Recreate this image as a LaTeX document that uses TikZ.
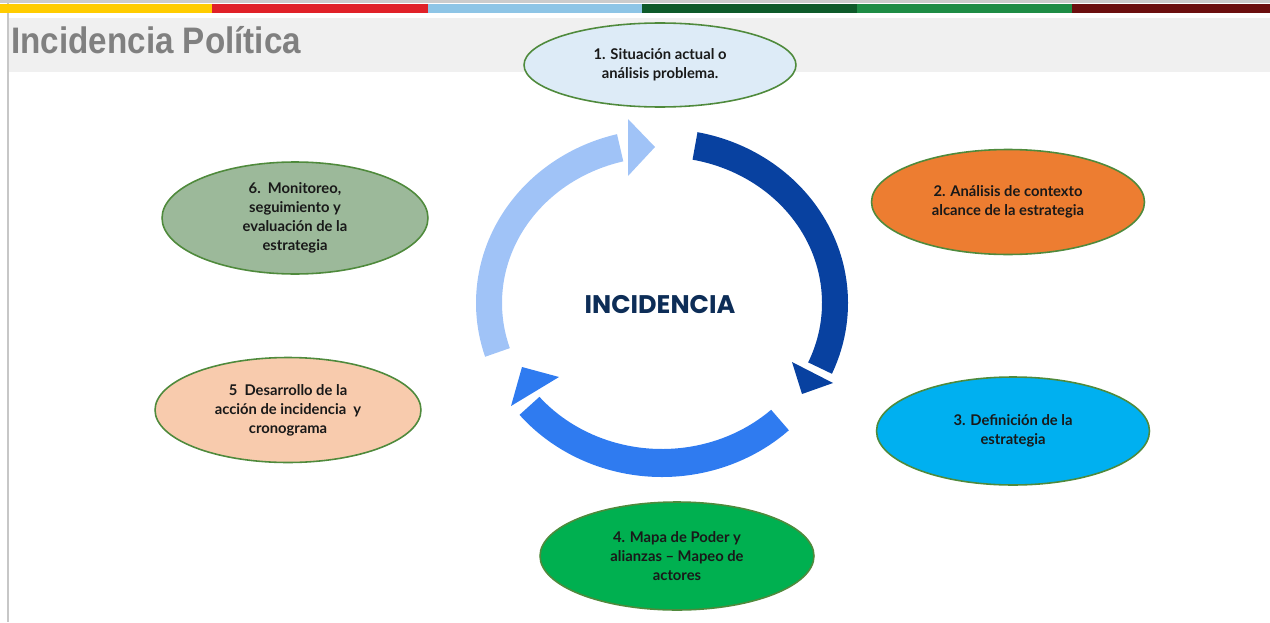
\documentclass[tikz,border=0pt]{standalone}
\usepackage{fontspec}
\usetikzlibrary{shapes.geometric}
\newfontfamily\titlefont{Liberation Sans}
\newfontfamily\stepfont{Lato}
\newfontfamily\incfont{Poppins}

\begin{document}
\begin{tikzpicture}
    [x=0.02cm,y=-0.02cm,line cap=butt,
    % Styles
    stepnode/.style={ellipse,draw=stepborder,line width=0.9pt,inner sep=0pt,
        align=center,text=black!90,font=\stepfont\bfseries\fontsize{8.4}{10.8}\selectfont}]

    % Colors
    \definecolor{stepborder}{HTML}{4F8A3C}
    \definecolor{darkband}{HTML}{0841A0}
    \definecolor{midband}{HTML}{2F7BF0}
    \definecolor{lightband}{HTML}{A0C3F7}
    \definecolor{inctext}{HTML}{0D2D57}
    \definecolor{fillA}{HTML}{DDEBF7}
    \definecolor{fillB}{HTML}{ED7D31}
    \definecolor{fillC}{HTML}{00B0F0}
    \definecolor{fillD}{HTML}{00B050}
    \definecolor{fillE}{HTML}{F8CBAD}
    \definecolor{fillF}{HTML}{9CB99A}

    \useasboundingbox (0,0) rectangle (1270,622);

    % Frame and title bar
    \draw[black!20,line width=0.06cm] (0,1.5) -- (1270,1.5);
    \draw[black!22,line width=0.04cm] (8,3) -- (8,622);
    \foreach \col/\xa/\xb in {FFCC00/0/212, E02128/212/428, 8EC5E6/428/642,
                              0E5A2A/642/857, 1E8C45/857/1072, 6B0F0F/1072/1270}
    {
        \definecolor{stripecolor}{HTML}{\col}
        \fill[stripecolor] (\xa,4) rectangle (\xb,12.5);
    }
    \fill[black!6] (9,18) rectangle (1270,72);
    \node[anchor=base west,inner sep=0pt,text=black!50,
          font=\titlefont\bfseries\fontsize{21}{24}\selectfont] (title) at (11,53)
        {\scalebox{0.9}[1]{Incidencia Política}};

    % Cycle
    \begin{scope}[shift={(662,303)},y=0.02cm]
        \foreach \col/\a/\b in {darkband/79/-24, midband/-47/-140, lightband/-162/-256}
            \fill[\col] (\a:186 and 174)
                arc[start angle=\a, end angle=\b, x radius=186, y radius=174]
                -- (\b:160 and 146)
                arc[start angle=\b, end angle=\a, x radius=160, y radius=146] -- cycle;
    \end{scope}
    % Arrow heads
    \fill[darkband] (792,362) -- (833,383) -- (802,394) -- cycle;
    \fill[midband] (511,406) -- (522,367) -- (559,377) -- cycle;
    \fill[lightband] (628,119) -- (655,147) -- (628,176) -- cycle;

    \node[text=inctext,font=\incfont\bfseries\fontsize{14.5}{16}\selectfont] (incidencia) at (660,305)
        {INCIDENCIA};

    % Steps
    \node[stepnode,fill=fillA,minimum width=5.44cm,minimum height=1.68cm] (situacion) at (660,65)
        {1. Situación actual o\\análisis problema.};
    \node[stepnode,fill=fillB,minimum width=5.46cm,minimum height=2.1cm] (contexto) at (1008,202)
        {2. Análisis de contexto\\alcance de la estrategia};
    \node[stepnode,fill=fillC,minimum width=5.46cm,minimum height=2.16cm] (definicion) at (1013,431)
        {3. Definición de la\\estrategia};
    \node[stepnode,fill=fillD,minimum width=5.48cm,minimum height=2.16cm] (mapa) at (677,556)
        {4. Mapa de Poder y\\alianzas – Mapeo de\\actores};
    \node[stepnode,fill=fillE,minimum width=5.32cm,minimum height=2.1cm] (desarrollo) at (288,410)
        {5\ \ Desarrollo de la\\acción de incidencia\ \ y\\cronograma};
    \node[stepnode,fill=fillF,minimum width=5.32cm,minimum height=2.24cm] (monitoreo) at (295,218)
        {6.\ \ Monitoreo,\\seguimiento y\\evaluación de la\\estrategia};

\end{tikzpicture}
\end{document}
